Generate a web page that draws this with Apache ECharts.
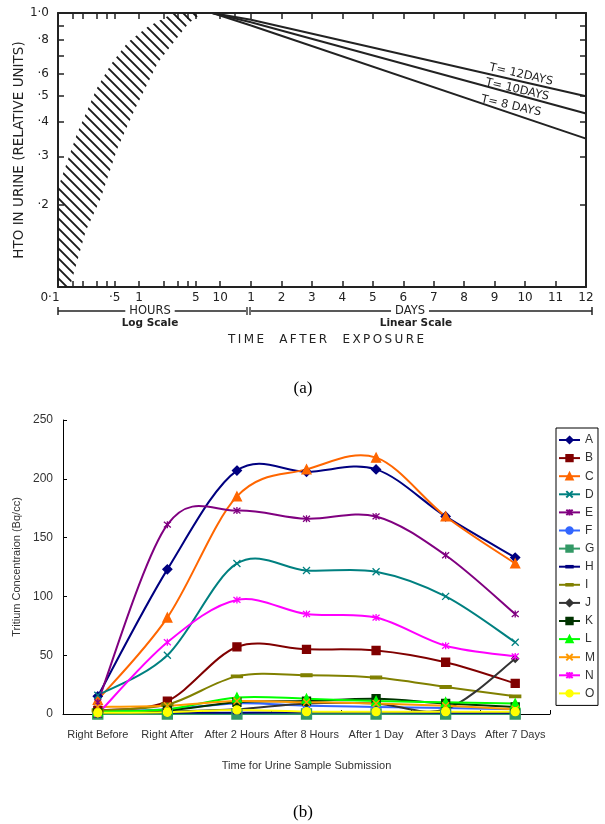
<!DOCTYPE html>
<html><head><meta charset="utf-8">
<script src="https://cdn.jsdelivr.net/npm/echarts@6/dist/echarts.min.js"></script>
<style>html,body{margin:0;padding:0;background:#fff}#c{width:605px;height:824px}</style>
</head><body><div id="c"></div>
<script>
// ================= Panel (a) data =================
const hourTickValues = [0.15, 0.2, 0.3, 0.4, 0.5, 1, 2, 3, 4, 5, 10, 15];
const hourLabelValues = [0.1, 0.5, 1, 5, 10, 15];
const hourLabelTexts = ['0·1', '·5', '1', '5', '10', '15'];
const dayTickValues = [1, 2, 3, 4, 5, 6, 7, 8, 9, 10, 11, 12];
const dayLabelTexts = ['1', '2', '3', '4', '5', '6', '7', '8', '9', '10', '11', '12'];
const yTickValues = [0.2, 0.3, 0.4, 0.5, 0.6, 0.7, 0.8, 0.9];
const yLabelValues = [0.2, 0.3, 0.4, 0.5, 0.6, 0.8, 1.0];
const yLabelTexts = ['·2', '·3', '·4', '·5', '·6', '·8', '1·0'];

// hatched uptake band (hours, relative units)
const hatchUpperHours = [0.1, 0.17, 0.3, 0.45, 0.72, 1.28, 2.5, 3.5];
const hatchUpperValues = [0.23, 0.36, 0.53, 0.65, 0.78, 0.89, 0.99, 1.0];
const hatchLowerHours = [0.1, 0.14, 0.22, 0.335, 0.54, 0.87, 1.71, 4.1, 6];
const hatchLowerValues = [0.1, 0.1, 0.16, 0.21, 0.32, 0.44, 0.66, 0.92, 1.0];

// decay lines: hours segment and days segment
const decayNames = ['T= 12DAYS', 'T= 10DAYS', 'T= 8 DAYS'];
const decayHours = [8, 24];
const decayHourValues = [[1.0, 0.945], [1.0, 0.925], [1.0, 0.90]];
const decayDays = [1, 12];
const decayDayValues = [[0.945, 0.497], [0.925, 0.43], [0.90, 0.348]];
const decayLabelDays = [9.87, 9.74, 9.54];
const decayLabelValues = [0.596, 0.525, 0.458];

// ================= Panel (b) data =================
const categories = ['Right Before', 'Right After', 'After 2 Hours', 'After 8 Hours', 'After 1 Day', 'After 3 Days', 'After 7 Days'];
const A = [15, 123, 207, 206, 208, 168, 133];
const B = [3, 11, 57, 55, 54, 44, 26];
const C = [12, 82, 185, 208, 218, 168, 128];
const D = [16, 50, 128, 122, 121, 100, 61];
const E = [10, 161, 173, 166, 168, 135, 85];
const F = [2, 4, 9, 7, 6, 5, 4];
const G = [0, 0, 0, 0, 0, 0, 0];
const H = [1, 1, 1, 1.5, 1.5, 1, 1];
const I = [3, 8, 32, 33, 31, 23, 15];
const J = [1, 2, 4, 9, 9, 4, 47];
const K = [1, 3, 10, 11, 13, 9, 6];
const L = [2, 4, 14, 13, 11, 10, 9];
const M = [6, 7, 11, 10, 9, 7, 4];
const N = [0, 61, 97, 85, 82, 58, 49];
const O = [1, 1.5, 3.5, 2, 2, 2, 2];
const yTicksB = [0, 50, 100, 150, 200, 250];

// ================= styling =================
const INK = '#222';
const FA = "'DejaVu Sans', sans-serif";
const FB = "'Liberation Sans', Arial, sans-serif";
const XSYM = 'path://M0,0L10,10M10,0L0,10';
const ASYM = 'path://M0,0L10,10M10,0L0,10M5,-1L5,11';
// horizontal dash inside a square bounding box (empty corner points keep the box square)
const DASH = 'path://M0,0L0,0M10,10L10,10M0,3.8L10,3.8L10,6.2L0,6.2Z';

function lookup(values, texts) {
  return function (v) {
    for (let i = 0; i < values.length; i++) {
      if (Math.abs(v - values[i]) <= 1e-3 * values[i]) return texts[i];
    }
    return '';
  };
}
function spaced(s) { return s.split('').join('\u2009'); }

function hatchCanvas() {
  const s = 10, c = document.createElement('canvas');
  c.width = s; c.height = s;
  const g = c.getContext('2d');
  g.strokeStyle = '#1a1a1a'; g.lineWidth = 1.9;
  g.beginPath();
  g.moveTo(-2, -2); g.lineTo(s + 2, s + 2);
  g.moveTo(-2, s - 2); g.lineTo(2, s + 2);
  g.moveTo(s - 2, -2); g.lineTo(s + 2, 2);
  g.stroke();
  return c;
}
const hatchImg = hatchCanvas();

const hatchPoly = [];
for (let i = 0; i < hatchUpperHours.length; i++) hatchPoly.push([hatchUpperHours[i], hatchUpperValues[i]]);
for (let i = hatchLowerHours.length - 1; i >= 0; i--) hatchPoly.push([hatchLowerHours[i], hatchLowerValues[i]]);

const aAxisLine = { show: true, lineStyle: { color: INK, width: 2 } };
const aTick = (vals) => ({ show: true, inside: true, length: 6, customValues: vals, lineStyle: { color: INK, width: 1.5 } });
const aLabel = { color: INK, fontFamily: FA, fontSize: 12 };

const xAxes = [
  { gridIndex: 0, type: 'log', logBase: 10, min: 0.1, max: 24, position: 'bottom',
    axisLine: aAxisLine, axisTick: aTick(hourTickValues), splitLine: { show: false }, minorTick: { show: false },
    axisLabel: Object.assign({}, aLabel, { margin: 5, customValues: hourLabelValues,
      formatter: function (v) { const t = lookup(hourLabelValues, hourLabelTexts)(v); return t === '0·1' ? '{a|0·1}' : t; },
      rich: { a: { padding: [0, 16, 0, 0], color: INK, fontFamily: FA, fontSize: 12 } } }) },
  { gridIndex: 0, type: 'log', logBase: 10, min: 0.1, max: 24, position: 'top',
    axisLine: aAxisLine, axisTick: aTick(hourTickValues), axisLabel: { show: false }, splitLine: { show: false } },
  { gridIndex: 1, type: 'value', min: 1, max: 12, interval: 1, position: 'bottom',
    axisLine: aAxisLine, axisTick: { show: true, inside: true, length: 6, lineStyle: { color: INK, width: 1.5 } },
    splitLine: { show: false },
    axisLabel: Object.assign({}, aLabel, { margin: 5, formatter: lookup(dayTickValues, dayLabelTexts) }) },
  { gridIndex: 1, type: 'value', min: 1, max: 12, interval: 1, position: 'top',
    axisLine: aAxisLine, axisTick: { show: true, inside: true, length: 6, lineStyle: { color: INK, width: 1.5 } },
    axisLabel: { show: false }, splitLine: { show: false } },
  { gridIndex: 2, type: 'category', data: categories, boundaryGap: true,
    axisLine: { show: true, lineStyle: { color: '#000', width: 1 } },
    axisTick: { show: true, inside: true, length: 4, lineStyle: { color: '#000' } },
    axisLabel: { color: '#333', fontFamily: FB, fontSize: 11, margin: 15, interval: 0 },
    name: 'Time for Urine Sample Submission', nameLocation: 'middle', nameGap: 46,
    nameTextStyle: { color: '#333', fontFamily: FB, fontSize: 11 } }
];

const yAxes = [
  { gridIndex: 0, type: 'log', logBase: 10, min: 0.1, max: 1, position: 'left',
    axisLine: aAxisLine, axisTick: aTick(yTickValues), splitLine: { show: false }, minorTick: { show: false },
    axisLabel: Object.assign({}, aLabel, { margin: 9, customValues: yLabelValues, formatter: lookup(yLabelValues, yLabelTexts) }),
    name: 'HTO IN URINE (RELATIVE UNITS)', nameLocation: 'middle', nameGap: 25, nameRotate: 90,
    nameTextStyle: { color: INK, fontFamily: FA, fontSize: 13.5 } },
  { gridIndex: 1, type: 'log', logBase: 10, min: 0.1, max: 1, position: 'right',
    axisLine: aAxisLine, axisTick: aTick(yTickValues), axisLabel: { show: false }, splitLine: { show: false } },
  { gridIndex: 2, type: 'value', min: 0, max: 250, interval: 50,
    axisLine: { show: true, lineStyle: { color: '#000', width: 1 } },
    axisTick: { show: true, inside: true, length: 4, lineStyle: { color: '#000' } },
    splitLine: { show: false },
    axisLabel: { color: '#333', fontFamily: FB, fontSize: 12, margin: 10, customValues: yTicksB },
    name: 'Tritium Concentraion (Bq/cc)', nameLocation: 'middle', nameGap: 39, nameRotate: 90,
    nameTextStyle: { color: '#333', fontFamily: FB, fontSize: 11 } }
];

const series = [];
// hatched band
series.push({
  type: 'custom', xAxisIndex: 0, yAxisIndex: 0, silent: true, clip: true, z: 1,
  data: [[hatchUpperHours[0], hatchUpperValues[0]]],
  renderItem: function (params, api) {
    const pts = hatchPoly.map(p => api.coord(p));
    return { type: 'polygon', shape: { points: pts }, style: { fill: { image: hatchImg, repeat: 'repeat' }, stroke: null } };
  }
});
for (let k = 0; k < 3; k++) {
  series.push({
    type: 'line', xAxisIndex: 0, yAxisIndex: 0, symbol: 'none', silent: true, z: 3,
    lineStyle: { color: INK, width: 2 },
    data: decayHours.map((h, i) => [h, decayHourValues[k][i]])
  });
  series.push({
    type: 'line', xAxisIndex: 2, yAxisIndex: 1, symbol: 'none', silent: true, z: 3,
    lineStyle: { color: INK, width: 2 },
    data: decayDays.map((d, i) => [d, decayDayValues[k][i]]),
    markPoint: {
      symbol: 'rect', symbolSize: 1, itemStyle: { color: 'rgba(0,0,0,0)' }, silent: true,
      label: { show: true, position: 'inside', rotate: -13, formatter: decayNames[k], color: INK, fontFamily: FA, fontSize: 11.5 },
      data: [{ coord: [decayLabelDays[k], decayLabelValues[k]] }]
    }
  });
}

const defsB = [
  { name: 'A', data: A, color: '#000080', symbol: 'diamond', size: 9 },
  { name: 'B', data: B, color: '#800000', symbol: 'rect', size: 8 },
  { name: 'C', data: C, color: '#FF6600', symbol: 'triangle', size: 9 },
  { name: 'D', data: D, color: '#008080', symbol: XSYM, size: 7 },
  { name: 'E', data: E, color: '#800080', symbol: ASYM, size: 7 },
  { name: 'F', data: F, color: '#3366FF', symbol: 'circle', size: 7 },
  { name: 'G', data: G, color: '#339966', symbol: 'rect', size: 10 },
  { name: 'H', data: H, color: '#000080', symbol: DASH, size: 7 },
  { name: 'I', data: I, color: '#808000', symbol: DASH, size: 11 },
  { name: 'J', data: J, color: '#333333', symbol: 'diamond', size: 7 },
  { name: 'K', data: K, color: '#003300', symbol: 'rect', size: 8 },
  { name: 'L', data: L, color: '#00FF00', symbol: 'triangle', size: 9 },
  { name: 'M', data: M, color: '#FF9900', symbol: XSYM, size: 7 },
  { name: 'N', data: N, color: '#FF00FF', symbol: ASYM, size: 7 },
  { name: 'O', data: O, color: '#FFFF00', symbol: 'circle', size: 8 }
];

// Excel-style (Catmull-Rom) smoothed curve through the series' own points
function curveRenderer(values, color) {
  return function (params, api) {
    if (params.dataIndex !== 0) return;
    const pts = values.map((v, i) => api.coord([i, v]));
    const children = [];
    for (let i = 0; i < pts.length - 1; i++) {
      const p0 = pts[Math.max(i - 1, 0)], p1 = pts[i], p2 = pts[i + 1], p3 = pts[Math.min(i + 2, pts.length - 1)];
      children.push({
        type: 'bezierCurve',
        shape: {
          x1: p1[0], y1: p1[1], x2: p2[0], y2: p2[1],
          cpx1: p1[0] + (p2[0] - p0[0]) / 6, cpy1: p1[1] + (p2[1] - p0[1]) / 6,
          cpx2: p2[0] - (p3[0] - p1[0]) / 6, cpy2: p2[1] - (p3[1] - p1[1]) / 6
        },
        style: { stroke: color, lineWidth: 2, fill: null, lineCap: 'round' }
      });
    }
    return { type: 'group', children: children };
  };
}

defsB.forEach((d, k) => {
  series.push({
    type: 'custom', xAxisIndex: 4, yAxisIndex: 2, silent: true, z: 2 + k * 0.01,
    data: d.data.map((v, i) => [i, v]),
    renderItem: curveRenderer(d.data, d.color)
  });
  series.push({
    name: d.name, type: 'line', xAxisIndex: 4, yAxisIndex: 2, data: d.data,
    symbol: d.symbol, symbolSize: d.size, showAllSymbol: true, z: 3,
    lineStyle: { color: d.color, width: 2, opacity: 0 },
    itemStyle: { color: d.color, borderColor: d.color, borderWidth: 1.3 },
    emphasis: { disabled: true }
  });
});

const option = {
  animation: false,
  backgroundColor: '#fff',
  grid: [
    { left: 58, top: 13, width: 193, height: 274, outerBoundsMode: 'none' },
    { left: 251, top: 13, width: 335, height: 274, outerBoundsMode: 'none' },
    { left: 63, top: 420, width: 487, height: 294, outerBoundsMode: 'none' }
  ],
  xAxis: xAxes,
  yAxis: yAxes,
  legend: {
    orient: 'vertical', left: 556, top: 428, itemWidth: 21, itemHeight: 8, itemGap: 6.1,
    padding: [6, 3, 6, 2], borderColor: '#000', borderWidth: 1, backgroundColor: '#fff',
    textStyle: { color: '#333', fontFamily: FB, fontSize: 12 },
    data: defsB.map(d => ({ name: d.name, lineStyle: { color: d.color, width: 2, opacity: 1 } })),
    selectedMode: false
  },
  graphic: [
    { type: 'line', shape: { x1: 58, y1: 311, x2: 246, y2: 311 }, style: { stroke: INK, lineWidth: 1.3 }, z: 1 },
    { type: 'line', shape: { x1: 58, y1: 307, x2: 58, y2: 315 }, style: { stroke: INK, lineWidth: 1.5 } },
    { type: 'line', shape: { x1: 247, y1: 307, x2: 247, y2: 315 }, style: { stroke: INK, lineWidth: 1.3 } },
    { type: 'line', shape: { x1: 250, y1: 307, x2: 250, y2: 315 }, style: { stroke: INK, lineWidth: 1.3 } },
    { type: 'line', shape: { x1: 251, y1: 311, x2: 592, y2: 311 }, style: { stroke: INK, lineWidth: 1.3 }, z: 1 },
    { type: 'line', shape: { x1: 592, y1: 307, x2: 592, y2: 315 }, style: { stroke: INK, lineWidth: 1.5 } },
    { type: 'text', x: 150, y: 311, z: 5, style: { text: 'HOURS', fill: INK, font: "11.5px 'DejaVu Sans'", align: 'center', verticalAlign: 'middle', backgroundColor: '#fff', padding: [0, 4] } },
    { type: 'text', x: 150, y: 323, z: 5, style: { text: 'Log Scale', fill: INK, font: "bold 10.5px 'DejaVu Sans'", align: 'center', verticalAlign: 'middle' } },
    { type: 'text', x: 410, y: 311, z: 5, style: { text: 'DAYS', fill: INK, font: "11.5px 'DejaVu Sans'", align: 'center', verticalAlign: 'middle', backgroundColor: '#fff', padding: [0, 4] } },
    { type: 'text', x: 416, y: 323, z: 5, style: { text: 'Linear Scale', fill: INK, font: "bold 10.5px 'DejaVu Sans'", align: 'center', verticalAlign: 'middle' } },
    { type: 'text', x: 326, y: 340, z: 5, style: { text: spaced('TIME') + '    ' + spaced('AFTER') + '    ' + spaced('EXPOSURE'), fill: INK, font: "12px 'DejaVu Sans'", align: 'center', verticalAlign: 'middle' } },
    { type: 'text', x: 303, y: 389, style: { text: '(a)', fill: '#000', font: "17px 'Liberation Serif'", align: 'center', verticalAlign: 'middle' } },
    { type: 'text', x: 303, y: 813, style: { text: '(b)', fill: '#000', font: "17px 'Liberation Serif'", align: 'center', verticalAlign: 'middle' } }
  ],
  series: series
};

const chart = echarts.init(document.getElementById('c'), null, { renderer: 'canvas' });
chart.setOption(option);
</script>
</body></html>
